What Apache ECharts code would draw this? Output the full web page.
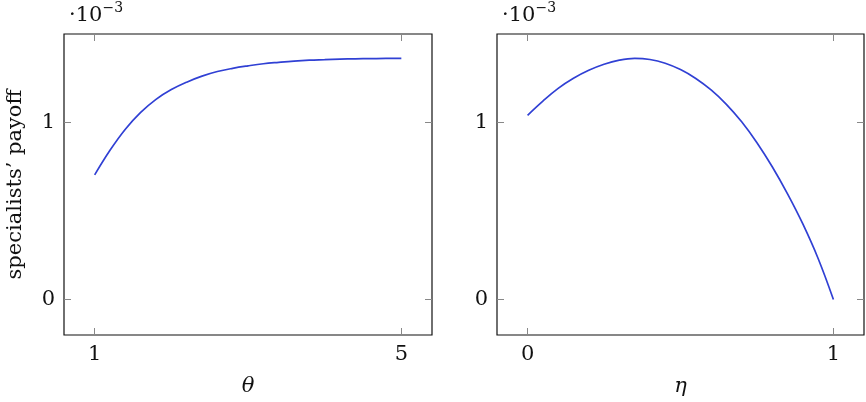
<!DOCTYPE html>
<html><head><meta charset="utf-8">
<script src="https://cdn.jsdelivr.net/npm/echarts@6/dist/echarts.min.js"></script>
<style>html,body{margin:0;padding:0;background:#fff}#c{width:866px;height:402px}</style>
</head><body><div id="c"></div>
<script>
// values in units of 1e-3
const thetaVals = [1.0, 1.2, 1.4, 1.6, 1.8, 2.0, 2.2, 2.4, 2.6, 2.8, 3.0, 3.2, 3.4, 3.6, 3.8, 4.0, 4.2, 4.4, 4.6, 4.8, 5.0];
const payoffTheta = [0.704, 0.843, 0.962, 1.057, 1.131, 1.186, 1.228, 1.262, 1.288, 1.306, 1.320, 1.332, 1.340, 1.347, 1.352, 1.355, 1.358, 1.360, 1.361, 1.362, 1.362];
const etaVals = [0, 0.05, 0.1, 0.15, 0.2, 0.25, 0.3, 0.35, 0.4, 0.45, 0.5, 0.55, 0.6, 0.65, 0.7, 0.75, 0.8, 0.85, 0.9, 0.95, 1.0];
const payoffEta = [1.041, 1.121, 1.193, 1.250, 1.295, 1.329, 1.352, 1.362, 1.356, 1.335, 1.299, 1.249, 1.184, 1.103, 1.004, 0.886, 0.750, 0.597, 0.427, 0.232, 0.0];
const thetaTicks = [1, 5];
const etaTicks = [0, 1];
const yTicks = [0, 1];
const yLabel = 'specialists\u2019 payoff';
const expLabel = '\u00b710';
const expSup = '\u22123';

const FONT = 'DejaVu Serif';
const tickStyle = {color: '#888', width: 1};
const lineColor = '#3040d4';

function xAxes(gi, min, max, ticks, name) {
  return [
    {gridIndex: gi, type: 'value', position: 'bottom', min, max,
     axisLine: {show: false, onZero: false}, splitLine: {show: false},
     axisTick: {show: true, inside: true, length: 7, customValues: ticks, lineStyle: tickStyle},
     axisLabel: {customValues: ticks, margin: 9, fontFamily: FONT, fontSize: 21, color: '#111'},
     name, nameLocation: 'middle', nameGap: 41,
     nameTextStyle: {fontFamily: FONT, fontStyle: 'italic', fontSize: 21, color: '#111'}},
    {gridIndex: gi, type: 'value', position: 'top', min, max,
     axisLine: {show: false, onZero: false}, splitLine: {show: false},
     axisTick: {show: true, inside: true, length: 7, customValues: ticks, lineStyle: tickStyle},
     axisLabel: {show: false}}
  ];
}
function yAxes(gi, name) {
  return [
    {gridIndex: gi, type: 'value', position: 'left', min: -0.2, max: 1.5,
     axisLine: {show: false, onZero: false}, splitLine: {show: false},
     axisTick: {show: true, inside: true, length: 7, customValues: yTicks, lineStyle: tickStyle},
     axisLabel: {customValues: yTicks, margin: 9, fontFamily: FONT, fontSize: 21, color: '#111'},
     name, nameLocation: 'middle', nameGap: 38,
     nameTextStyle: {fontFamily: FONT, fontSize: 21, color: '#111'}},
    {gridIndex: gi, type: 'value', position: 'right', min: -0.2, max: 1.5,
     axisLine: {show: false, onZero: false}, splitLine: {show: false},
     axisTick: {show: true, inside: true, length: 7, customValues: yTicks, lineStyle: tickStyle},
     axisLabel: {show: false}}
  ];
}

const chart = echarts.init(document.getElementById('c'), null, {renderer: 'canvas'});
const expText = {
  text: '{a|' + expLabel + '}{b|' + expSup + '}',
  rich: {
    a: {fontFamily: FONT, fontSize: 21, fill: '#111', verticalAlign: 'bottom'},
    b: {fontFamily: FONT, fontSize: 14, fill: '#111', verticalAlign: 'top', padding: [0, 0, 11, 0]}
  }
};
chart.setOption({
  animation: false,
  backgroundColor: '#fff',
  grid: [
    {left: 64, top: 34, width: 368, height: 305, show: true, borderColor: '#111', borderWidth: 1.2, backgroundColor: 'transparent'},
    {left: 497, top: 34, width: 367, height: 305, show: true, borderColor: '#111', borderWidth: 1.2, backgroundColor: 'transparent'}
  ],
  xAxis: [...xAxes(0, 0.6, 5.4, thetaTicks, '\u03b8'), ...xAxes(1, -0.1, 1.1, etaTicks, '\u03b7')],
  yAxis: [...yAxes(0, yLabel), ...yAxes(1, '')],
  graphic: [
    {type: 'text', left: 69, top: 1, style: expText},
    {type: 'text', left: 502, top: 1, style: expText}
  ],
  series: [
    {type: 'line', xAxisIndex: 0, yAxisIndex: 0, data: thetaVals.map((t, i) => [t, payoffTheta[i]]),
     smooth: 0.4, showSymbol: false, lineStyle: {color: lineColor, width: 1.7}},
    {type: 'line', xAxisIndex: 2, yAxisIndex: 2, data: etaVals.map((t, i) => [t, payoffEta[i]]),
     smooth: 0.4, showSymbol: false, lineStyle: {color: lineColor, width: 1.7}}
  ]
});
</script></body></html>
